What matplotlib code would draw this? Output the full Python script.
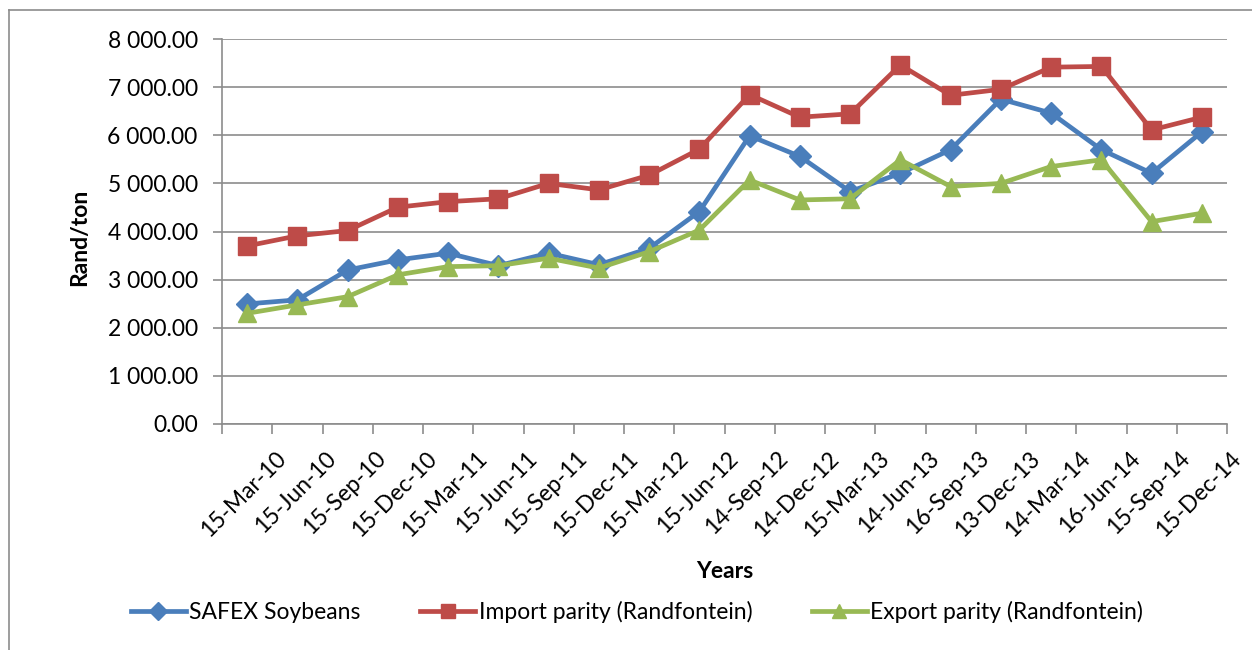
import matplotlib.pyplot as plt
from matplotlib.lines import Line2D
from matplotlib.ticker import FuncFormatter, FixedLocator
from matplotlib.transforms import ScaledTranslation
import numpy as np

dates = ['15-Mar-10', '15-Jun-10', '15-Sep-10', '15-Dec-10', '15-Mar-11', '15-Jun-11',
         '15-Sep-11', '15-Dec-11', '15-Mar-12', '15-Jun-12', '14-Sep-12', '14-Dec-12',
         '15-Mar-13', '14-Jun-13', '16-Sep-13', '13-Dec-13', '14-Mar-14', '16-Jun-14',
         '15-Sep-14', '15-Dec-14']

safex = [2495, 2580, 3200, 3410, 3550, 3290, 3550, 3310, 3650, 4415,
         5990, 5560, 4830, 5210, 5700, 6750, 6460, 5700, 5210, 6070]
import_parity = [3700, 3910, 4020, 4505, 4620, 4680, 5000, 4865, 5170, 5710,
                 6845, 6375, 6445, 7460, 6830, 6955, 7415, 7430, 6110, 6375]
export_parity = [2300, 2475, 2645, 3100, 3270, 3290, 3445, 3240, 3580, 4030,
                 5070, 4655, 4680, 5490, 4935, 5000, 5350, 5490, 4205, 4380]

plt.rcParams['font.family'] = ['Lato', 'DejaVu Sans']
fs = 16.5
grey = '#8c8c8c'

fig = plt.figure(figsize=(12.52, 6.5), dpi=100)
ax = fig.add_axes([222 / 1252, 1 - 424 / 650, (1227 - 222) / 1252, (424 - 39) / 650])

x = np.arange(len(dates))
ax.plot(x, safex, color='#4A7EBB', lw=3.4, marker='D', ms=11, label='SAFEX Soybeans')
ax.plot(x, import_parity, color='#BE4B48', lw=3.4, marker='s', ms=13,
        label='Import parity (Randfontein)')
ax.plot(x, export_parity, color='#98B954', lw=3.4, marker='^', ms=13,
        label='Export parity (Randfontein)')

ax.set_xlim(-0.5, len(dates) - 0.5)
ax.set_ylim(0, 8000)
ax.set_yticks(np.arange(0, 8001, 1000))
ax.yaxis.set_major_formatter(FuncFormatter(lambda v, p: f'{v:,.2f}'.replace(',', ' ')))
ax.grid(axis='y', color=grey, lw=1.2)
ax.set_axisbelow(True)

# date labels hang below each category, tick marks sit between categories
ax.set_xticks(x)
ax.set_xticklabels(dates, rotation=45, ha='right', va='top', rotation_mode='anchor')
ax.tick_params(axis='x', length=0, labelsize=fs, pad=0)
shift = ScaledTranslation(20 / 72, -17 / 72, fig.dpi_scale_trans)
for lbl in ax.get_xticklabels():
    lbl.set_transform(lbl.get_transform() + shift)
ax.xaxis.set_minor_locator(FixedLocator(np.arange(-0.5, len(dates), 1)))
ax.tick_params(axis='x', which='minor', length=7, color=grey, width=1.2)
ax.tick_params(axis='y', length=6.5, color=grey, width=1.2, labelsize=fs, pad=11)

for s in ['top', 'right']:
    ax.spines[s].set_visible(False)
for s in ['left', 'bottom']:
    ax.spines[s].set_color(grey)
    ax.spines[s].set_linewidth(1.2)

fig.text(80 / 1252, 1 - 237 / 650, 'Rand/ton', fontsize=fs, fontweight='bold',
         rotation=90, ha='center', va='center')
fig.text(725 / 1252, 1 - 571 / 650, 'Years', fontsize=fs, fontweight='bold',
         ha='center', va='center')

fig.legend(loc='center', bbox_to_anchor=(637 / 1252, 1 - 612 / 650), ncol=3,
           frameon=False, fontsize=fs, handlelength=2.4, columnspacing=2.6,
           handletextpad=0.15, markerscale=0.8)

# chart area frame (left and top edges fall inside the image)
fig.lines.append(Line2D([9 / 1252, 9 / 1252], [0, 1 - 10 / 650], transform=fig.transFigure,
                        color=grey, lw=1.2))
fig.lines.append(Line2D([9 / 1252, 1], [1 - 10 / 650, 1 - 10 / 650], transform=fig.transFigure,
                        color=grey, lw=1.2))

fig.savefig('out.png', dpi=100)
